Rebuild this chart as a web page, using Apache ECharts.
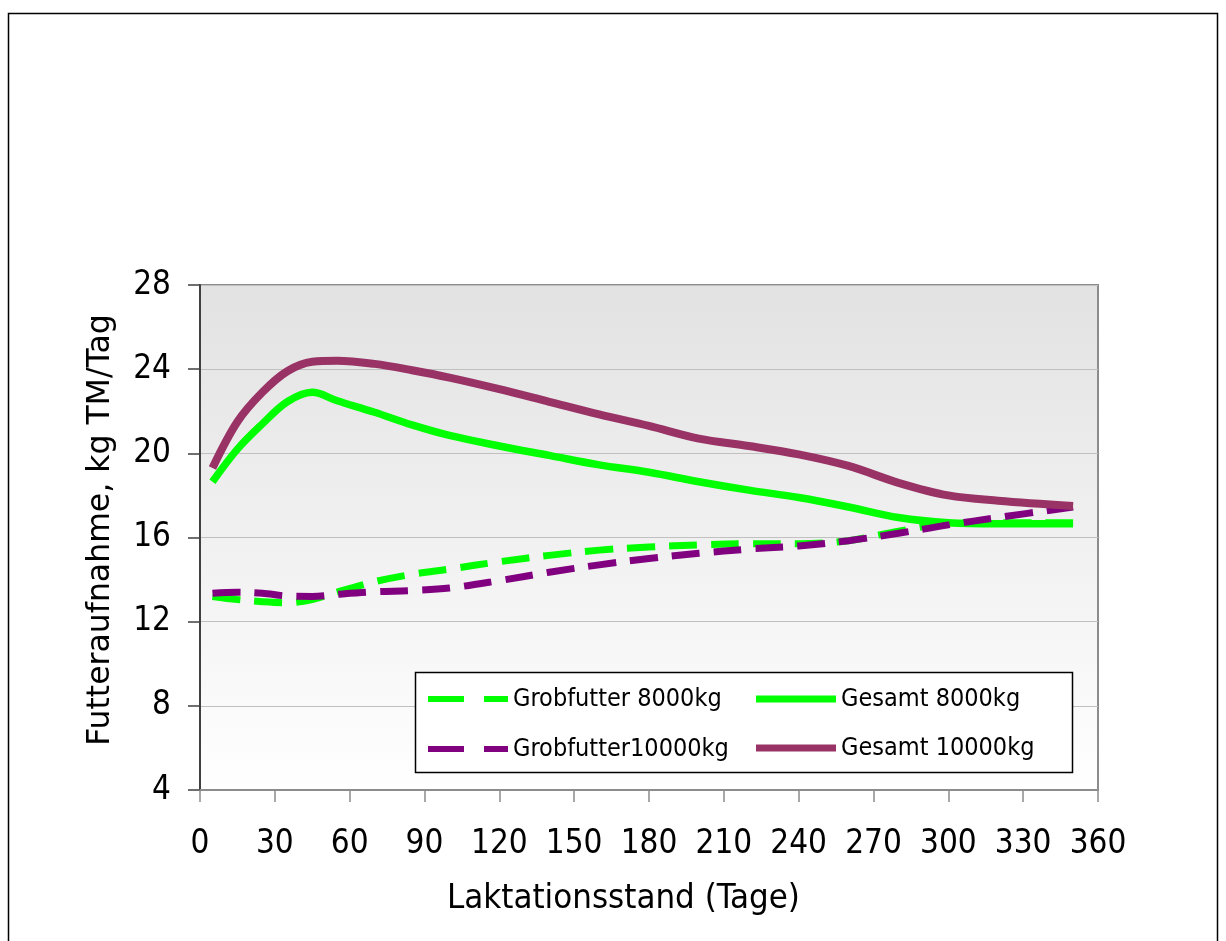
<!DOCTYPE html>
<html>
<head>
<meta charset="utf-8">
<script src="https://cdn.jsdelivr.net/npm/echarts@6/dist/echarts.min.js"></script>
<style>
  html, body { margin: 0; padding: 0; background: #fff; }
  #chart { width: 1226px; height: 941px; }
</style>
</head>
<body>
<div id="chart"></div>
<script>
// Lactation day (x) for every sampled point
const days = [5, 15, 25, 35, 45, 55, 70, 85, 100, 120, 140, 160, 180, 200, 220, 240, 260, 280, 300, 320, 350];

// Feed intake, kg dry matter per day
const grobfutter8000  = [13.2, 13.05, 12.95, 12.9, 13.05, 13.4, 13.9, 14.25, 14.5, 14.85, 15.15, 15.4, 15.55, 15.65, 15.7, 15.7, 15.85, 16.3, 16.65, 16.7, 16.7];
const gesamt8000      = [18.65, 20.2, 21.4, 22.45, 22.9, 22.5, 21.95, 21.35, 20.85, 20.35, 19.9, 19.45, 19.1, 18.65, 18.25, 17.9, 17.45, 16.95, 16.7, 16.65, 16.65];
const grobfutter10000 = [13.35, 13.4, 13.35, 13.22, 13.2, 13.3, 13.42, 13.48, 13.6, 13.95, 14.35, 14.7, 15.0, 15.25, 15.45, 15.6, 15.85, 16.2, 16.6, 16.95, 17.45];
const gesamt10000     = [19.3, 21.5, 22.9, 23.9, 24.35, 24.4, 24.25, 23.95, 23.6, 23.05, 22.45, 21.85, 21.3, 20.7, 20.35, 19.95, 19.4, 18.6, 18.0, 17.75, 17.5];

const seriesNames = ['Grobfutter 8000kg', 'Gesamt 8000kg', 'Grobfutter10000kg', 'Gesamt 10000kg'];
const xTicks = { min: 0, max: 360, step: 30 };
const yTicks = { min: 4, max: 28, step: 4 };

const pairs = vals => days.map((d, i) => [d, vals[i]]);

const condensed = '"DejaVu Sans Condensed", "DejaVu Sans", sans-serif';
const dash = [28, 14];
// legend key for the dashed series: two dashes side by side
const dashedKey = 'path://M0,0H36V6H0Z M56,0H80V6H56Z';

const legendText = { color: '#000', fontFamily: condensed, fontSize: 25, lineHeight: 26 };

const chart = echarts.init(document.getElementById('chart'), null, { renderer: 'canvas' });

chart.setOption({
  animation: false,
  backgroundColor: '#ffffff',
  grid: {
    left: 200, top: 285, right: 128, bottom: 151,
    show: true,
    borderColor: '#8c8c8c',
    borderWidth: 2,
    backgroundColor: new echarts.graphic.LinearGradient(0, 0, 0, 1, [
      { offset: 0, color: '#e2e2e2' },
      { offset: 1, color: '#ffffff' }
    ])
  },
  xAxis: {
    type: 'value',
    min: xTicks.min, max: xTicks.max, interval: xTicks.step,
    axisLine: { show: true, lineStyle: { color: '#8c8c8c', width: 2 } },
    axisTick: { show: true, length: 12, lineStyle: { color: '#8c8c8c', width: 1.5 } },
    splitLine: { show: false },
    axisLabel: { color: '#000', fontFamily: condensed, fontSize: 33, margin: 38 }
  },
  yAxis: {
    type: 'value',
    min: yTicks.min, max: yTicks.max, interval: yTicks.step,
    axisLine: { show: true, lineStyle: { color: '#404040', width: 2 } },
    axisTick: { show: true, length: 12, lineStyle: { color: '#404040', width: 1.5 } },
    splitLine: { show: true, lineStyle: { color: '#c0c0c0', width: 1 } },
    axisLabel: { color: '#000', fontFamily: condensed, fontSize: 33, margin: 29 }
  },
  legend: [
    {
      data: [
        { name: seriesNames[0], icon: dashedKey },
        { name: seriesNames[2], icon: dashedKey }
      ],
      orient: 'vertical', left: 428, top: 686, padding: 0,
      itemWidth: 80, itemHeight: 6, itemGap: 24,
      selectedMode: false, z: 10,
      textStyle: legendText
    },
    {
      data: [
        { name: seriesNames[1], icon: 'rect' },
        { name: seriesNames[3], icon: 'rect' }
      ],
      orient: 'vertical', left: 756, top: 686, padding: 0,
      itemWidth: 80, itemHeight: 7, itemGap: 23,
      selectedMode: false, z: 10,
      textStyle: legendText
    }
  ],
  graphic: [
    {
      type: 'rect', z: -1, silent: true,
      shape: { x: 8.5, y: 13.5, width: 1209, height: 1000 },
      style: { fill: 'none', stroke: '#000', lineWidth: 1.5 }
    },
    {
      type: 'rect', z: 5, silent: true,
      shape: { x: 415.5, y: 672.5, width: 657, height: 100 },
      style: { fill: '#ffffff', stroke: '#000', lineWidth: 1.5 }
    },
    {
      type: 'text', z: 5, silent: true,
      left: 447, top: 882,
      style: { text: 'Laktationsstand (Tage)', fill: '#000', font: '34.5px ' + condensed }
    },
    {
      type: 'text', z: 5, silent: true,
      rotation: Math.PI / 2,
      x: 101, y: 530,
      style: {
        text: 'Futteraufnahme, kg TM/Tag', fill: '#000',
        font: '31.5px "DejaVu Sans", sans-serif',
        align: 'center', verticalAlign: 'middle'
      }
    }
  ],
  series: [
    {
      name: seriesNames[0], type: 'line', data: pairs(grobfutter8000),
      smooth: 0.35, showSymbol: false, symbol: 'none',
      lineStyle: { color: '#00ff00', width: 7, type: dash, cap: 'butt' },
      itemStyle: { color: '#00ff00' }
    },
    {
      name: seriesNames[1], type: 'line', data: pairs(gesamt8000),
      smooth: 0.35, showSymbol: false, symbol: 'none',
      lineStyle: { color: '#00ff00', width: 7.5 },
      itemStyle: { color: '#00ff00' }
    },
    {
      name: seriesNames[2], type: 'line', data: pairs(grobfutter10000),
      smooth: 0.35, showSymbol: false, symbol: 'none',
      lineStyle: { color: '#800080', width: 7, type: dash, cap: 'butt' },
      itemStyle: { color: '#800080' }
    },
    {
      name: seriesNames[3], type: 'line', data: pairs(gesamt10000),
      smooth: 0.35, showSymbol: false, symbol: 'none',
      lineStyle: { color: '#993366', width: 8 },
      itemStyle: { color: '#993366' }
    }
  ]
});
</script>
</body>
</html>
